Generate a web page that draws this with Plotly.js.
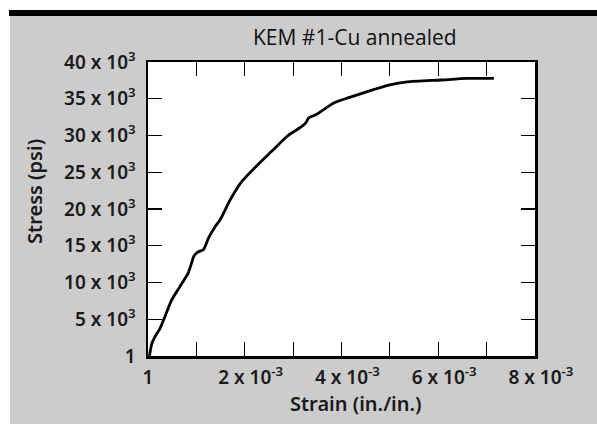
<!DOCTYPE html>
<html>
<head>
<meta charset="utf-8">
<script src="https://cdn.plot.ly/plotly-3.0.1.min.js"></script>
<style>
  html, body { margin: 0; padding: 0; background: #ffffff; width: 597px; height: 424px; overflow: hidden; }
  #bar { position: absolute; left: 9px; top: 10px; width: 588px; height: 6px; background: #000000; }
  #chart { position: absolute; left: 10px; top: 16px; width: 587px; height: 408px; }
</style>
</head>
<body>
<div id="bar"></div>
<div id="chart"></div>
<script>
// Strain in units of 1e-3 in./in.
const strain = [0.03, 0.05, 0.08, 0.145, 0.25, 0.35, 0.49, 0.66, 0.83, 0.90, 0.95, 1.02, 1.15, 1.20, 1.25, 1.39, 1.49, 1.70, 1.94, 2.25, 2.59, 2.87, 3.18, 3.27, 3.32, 3.49, 3.84, 4.15, 4.66, 5.00, 5.36, 6.05, 6.60, 7.15];
// Stress in psi
const stress = [0, 800, 1700, 2630, 3770, 5360, 7630, 9440, 11270, 12630, 13600, 14100, 14500, 15200, 16030, 17620, 18530, 21250, 23750, 25900, 28060, 29870, 31240, 31800, 32380, 32900, 34420, 35150, 36240, 36900, 37300, 37550, 37760, 37760];

const xTickVals = [0, 1, 2, 3, 4, 5, 6, 7, 8];
const xTickNums = ["1", "", "2", "", "4", "", "6", "", "8"];
const yTickVals = [0, 5000, 10000, 15000, 20000, 25000, 30000, 35000, 40000];
const yTickNums = ["1", "5", "10", "15", "20", "25", "30", "35", "40"];

const titleText = "KEM #1-Cu annealed";
const xTitle = "Strain (in./in.)";
const yTitle = "Stress (psi)";

// x labels: base part centred on the tick, exponent hanging to the right (phantom copy on the left)
const phantom = "<span style='color:rgba(0,0,0,0)'><sup>-3</sup></span>";
const xTickText = xTickNums.map(n => (n === "" || n === "1") ? n : phantom + n + " x 10<sup>-3</sup>");
const yTickText = yTickNums.map(n => n === "1" ? n : n + " x 10<sup>3</sup>");

const fam = "Noto Sans, Open Sans, sans-serif";
const tickFont = { family: fam, size: 19, color: "#1a1a1a", weight: 600 };

const trace = {
  x: strain, y: stress, type: "scatter", mode: "lines",
  line: { color: "#000000", width: 2.8, shape: "spline", smoothing: 0.6 },
  hoverinfo: "skip"
};

const axisCommon = {
  showgrid: false, zeroline: false, showline: true, linecolor: "#000000", linewidth: 2.5,
  mirror: "ticks", ticks: "inside", ticklen: 14, tickwidth: 1.2, tickcolor: "#000000",
  tickfont: tickFont, tickmode: "array"
};

const layout = {
  width: 587, height: 408,
  margin: { l: 138, r: 62, t: 46, b: 68 },
  paper_bgcolor: "#cccccc", plot_bgcolor: "#ffffff",
  showlegend: false,
  title: { text: "" },
  xaxis: Object.assign({}, axisCommon, { range: [0, 8], tickvals: xTickVals, ticktext: xTickText, ticklabelstandoff: 3 }),
  yaxis: Object.assign({}, axisCommon, { range: [0, 40000], tickvals: yTickVals, ticktext: yTickText, ticklabelstandoff: 6 }),
  annotations: [
    { text: titleText, xref: "paper", yref: "paper", x: 0.535, y: 1.085, xanchor: "center", yanchor: "middle", showarrow: false,
      font: { family: "Open Sans, sans-serif", size: 21, color: "#111111" } },
    { text: xTitle, xref: "paper", yref: "paper", x: 0.537, y: -0.16, xanchor: "center", yanchor: "middle", showarrow: false,
      font: { family: fam, size: 20, color: "#1a1a1a", weight: 600 } },
    { text: yTitle, xref: "paper", yref: "paper", x: -0.295, y: 0.561, xanchor: "center", yanchor: "middle", showarrow: false, textangle: -90,
      font: { family: fam, size: 20, color: "#1a1a1a", weight: 600 } }
  ]
};

Plotly.newPlot("chart", [trace], layout, { staticPlot: true, displayModeBar: false });
</script>
</body>
</html>
